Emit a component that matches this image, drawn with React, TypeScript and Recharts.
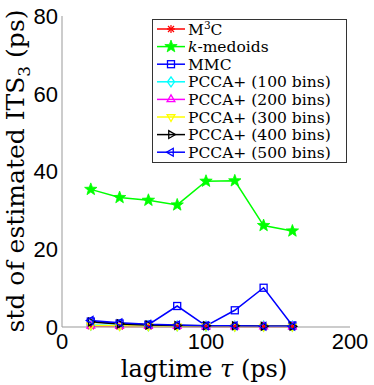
import { LineChart, Line, XAxis, YAxis, Label } from 'recharts';

const lagtimes = [20, 40, 60, 80, 100, 120, 140, 160];
const m3c = [0.2, 0.1, 0.1, 0.1, 0.1, 0.1, 0.1, 0.1];
const kmedoids = [35.4, 33.3, 32.6, 31.4, 37.5, 37.6, 26.1, 24.7];
const mmc = [1.4, 0.9, 0.6, 5.4, 0.3, 4.3, 10.1, 0.4];
const pcca100 = [0.5, 0.4, 0.3, 0.3, 0.2, 0.2, 0.2, 0.2];
const pcca200 = [0.3, 0.2, 0.2, 0.2, 0.1, 0.1, 0.1, 0.1];
const pcca300 = [0.4, 0.3, 0.2, 0.2, 0.2, 0.1, 0.1, 0.1];
const pcca400 = [1.3, 0.8, 0.5, 0.4, 0.3, 0.3, 0.2, 0.2];
const pcca500 = [1.7, 1.1, 0.7, 0.5, 0.3, 0.3, 0.2, 0.2];

const xTicks = [0, 100, 200];
const yTicks = [0, 20, 40, 60, 80];

type Marker = 'asterisk' | 'star' | 'square' | 'diamond' | 'up' | 'down' | 'right' | 'left';

const series: { key: string; name: string; color: string; marker: Marker; values: number[] }[] = [
  { key: 'm3c', name: 'M3C', color: '#ff0000', marker: 'asterisk', values: m3c },
  { key: 'kmedoids', name: 'k-medoids', color: '#00ff00', marker: 'star', values: kmedoids },
  { key: 'mmc', name: 'MMC', color: '#0000ff', marker: 'square', values: mmc },
  { key: 'p100', name: 'PCCA+ (100 bins)', color: '#00ffff', marker: 'diamond', values: pcca100 },
  { key: 'p200', name: 'PCCA+ (200 bins)', color: '#ff00ff', marker: 'up', values: pcca200 },
  { key: 'p300', name: 'PCCA+ (300 bins)', color: '#ffff00', marker: 'down', values: pcca300 },
  { key: 'p400', name: 'PCCA+ (400 bins)', color: '#000000', marker: 'right', values: pcca400 },
  { key: 'p500', name: 'PCCA+ (500 bins)', color: '#0000ff', marker: 'left', values: pcca500 },
];

const data = lagtimes.map((t, i) => {
  const row: Record<string, number> = { t };
  series.forEach((s) => (row[s.key] = s.values[i]));
  return row;
});

const SERIF = '"DejaVu Serif", serif';
const SANS = '"Liberation Sans", Arial, sans-serif';

function tri(cx: number, cy: number, r: number, angle: number) {
  const pts = [0, 1, 2].map((k) => {
    const a = ((angle + k * 120) * Math.PI) / 180;
    return `${cx + r * Math.cos(a)},${cy - r * Math.sin(a)}`;
  });
  return pts.join(' ');
}

function MarkerShape({ type, cx, cy, color }: { type: Marker; cx: number; cy: number; color: string }) {
  const sw = 1.3;
  switch (type) {
    case 'asterisk':
      return (
        <g stroke={color} strokeWidth={1.2}>
          <line x1={cx - 4} y1={cy} x2={cx + 4} y2={cy} />
          <line x1={cx} y1={cy - 4} x2={cx} y2={cy + 4} />
          <line x1={cx - 3} y1={cy - 3} x2={cx + 3} y2={cy + 3} />
          <line x1={cx - 3} y1={cy + 3} x2={cx + 3} y2={cy - 3} />
        </g>
      );
    case 'star': {
      const pts: string[] = [];
      for (let k = 0; k < 10; k++) {
        const r = k % 2 === 0 ? 6.5 : 2.7;
        const a = ((90 + k * 36) * Math.PI) / 180;
        pts.push(`${cx + r * Math.cos(a)},${cy - r * Math.sin(a)}`);
      }
      return <polygon points={pts.join(' ')} fill={color} stroke={color} strokeWidth={0.8} />;
    }
    case 'square':
      return <rect x={cx - 3.5} y={cy - 3.5} width={7} height={7} fill="none" stroke={color} strokeWidth={sw} />;
    case 'diamond':
      return (
        <polygon
          points={`${cx},${cy - 5} ${cx + 3.5},${cy} ${cx},${cy + 5} ${cx - 3.5},${cy}`}
          fill="none"
          stroke={color}
          strokeWidth={sw}
        />
      );
    case 'up':
      return <polygon points={tri(cx, cy, 4.5, 90)} fill="none" stroke={color} strokeWidth={sw} />;
    case 'down':
      return <polygon points={tri(cx, cy, 4.5, -90)} fill="none" stroke={color} strokeWidth={sw} />;
    case 'right':
      return <polygon points={tri(cx, cy, 4.5, 0)} fill="none" stroke={color} strokeWidth={sw} />;
    case 'left':
      return <polygon points={tri(cx, cy, 4.5, 180)} fill="none" stroke={color} strokeWidth={sw} />;
  }
  return null;
}

function LegendBox() {
  return (
    <svg
      width={196}
      height={145}
      style={{ position: 'absolute', left: 152, top: 19, overflow: 'visible' }}
    >
      <rect x={0.5} y={0.5} width={194} height={143} fill="#fff" stroke="#333" strokeWidth={1} />
      {series.map((s, i) => {
        const y = 10 + i * 17.6;
        return (
          <g key={s.key}>
            <line x1={5} y1={y} x2={33} y2={y} stroke={s.color} strokeWidth={1.5} />
            <MarkerShape type={s.marker} cx={19} cy={y} color={s.color} />
            <text x={36} y={y + 5.5} fontFamily={SERIF} fontSize={15.5} fill="#000">
              {s.key === 'm3c' ? (
                <>
                  M<tspan fontSize={10.5} dy={-6}>3</tspan>
                  <tspan dy={6}>C</tspan>
                </>
              ) : s.key === 'kmedoids' ? (
                <>
                  <tspan fontStyle="italic">k</tspan>-medoids
                </>
              ) : (
                s.name
              )}
            </text>
          </g>
        );
      })}
    </svg>
  );
}

export default function App() {
  return (
    <div style={{ position: 'absolute', left: 0, top: 0, width: 374, height: 385, background: '#fff' }}>
      <LineChart width={374} height={385} data={data} margin={{ top: 16, right: 24, bottom: 13, left: 22 }}>
        <XAxis
          dataKey="t"
          type="number"
          domain={[0, 200]}
          ticks={xTicks}
          tickLine={false}
          tickSize={0}
          tickMargin={6}
          height={45}
          stroke="#999"
          tick={{ fill: '#000', fontSize: 22, fontFamily: SANS }}
        >
          <Label
            content={() => (
              <text x={204} y={377} textAnchor="middle" fontFamily={SERIF} fontSize={24} fill="#000">
                lagtime <tspan fontStyle="italic">τ</tspan> (ps)
              </text>
            )}
          />
        </XAxis>
        <YAxis
          type="number"
          domain={[0, 80]}
          ticks={yTicks}
          tickLine={false}
          tickSize={0}
          tickMargin={4}
          width={40}
          stroke="#999"
          tick={{ fill: '#000', fontSize: 22, fontFamily: SANS }}
        >
          <Label
            content={() => (
              <text
                x={0}
                y={0}
                transform="translate(24,171) rotate(-90)"
                textAnchor="middle"
                fontFamily={SERIF}
                fontSize={25}
                fill="#000"
              >
                std of estimated ITS<tspan fontSize={17} dy={6}>3</tspan>
                <tspan dy={-6}> (ps)</tspan>
              </text>
            )}
          />
        </YAxis>
        {series.map((s) => (
          <Line
            key={s.key}
            dataKey={s.key}
            name={s.name}
            stroke={s.color}
            strokeWidth={1.5}
            isAnimationActive={false}
            dot={(p: any) => <MarkerShape key={`${s.key}-${p.index}`} type={s.marker} cx={p.cx} cy={p.cy} color={s.color} />}
            activeDot={false}
          />
        ))}
      </LineChart>
      <LegendBox />
    </div>
  );
}
